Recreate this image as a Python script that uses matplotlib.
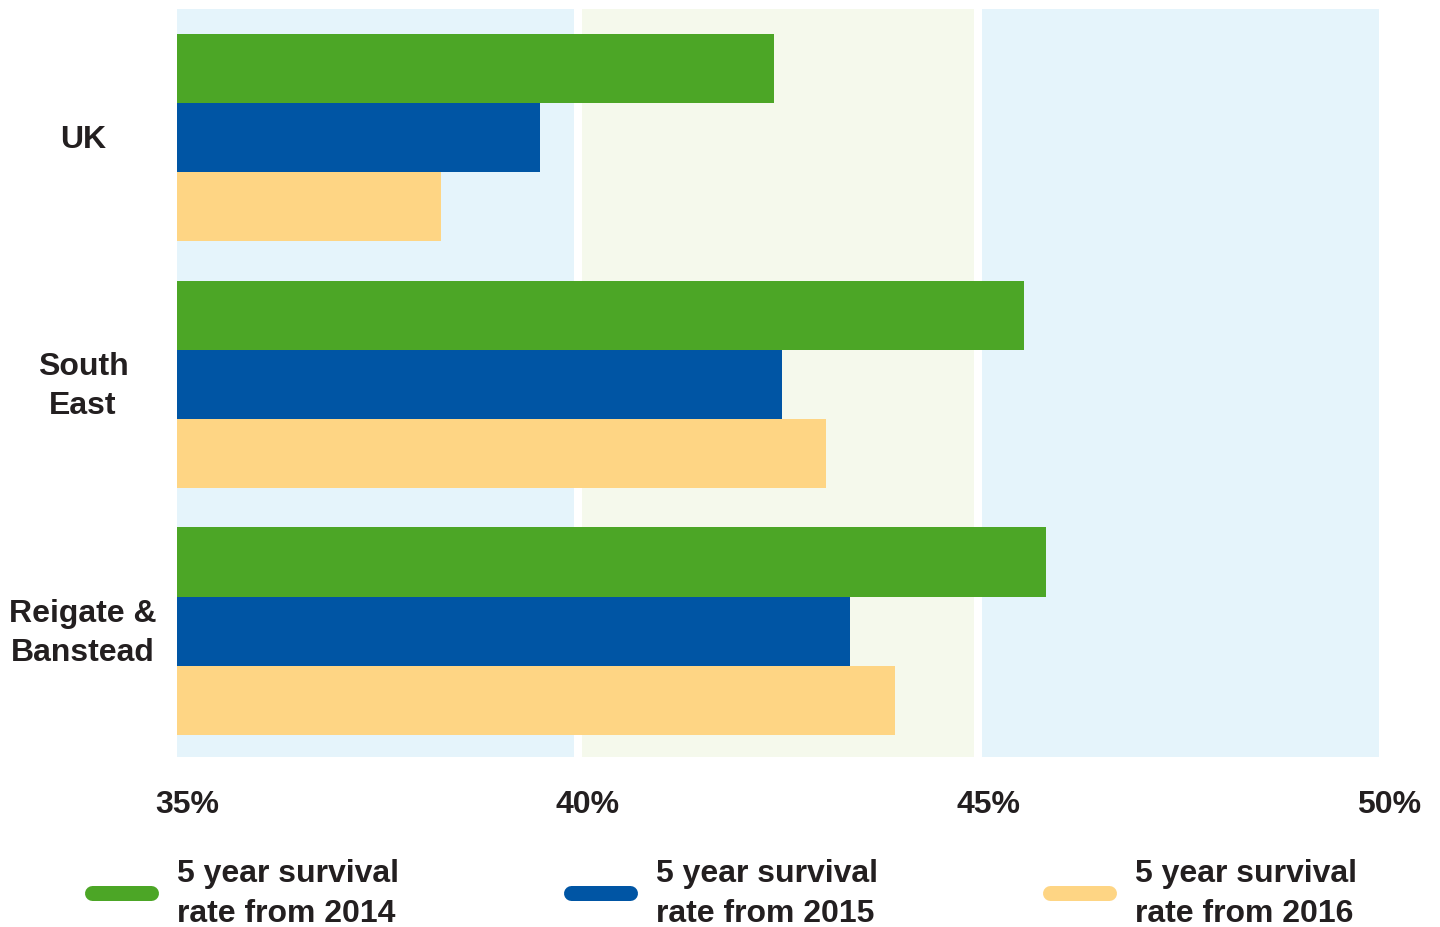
import matplotlib
matplotlib.use("Agg")
import matplotlib.pyplot as plt
from matplotlib.lines import Line2D
import matplotlib.transforms as mtransforms

plt.rcParams['font.family'] = ['Liberation Sans', 'DejaVu Sans']

categories = ["UK", "South\nEast", "Reigate &\nBanstead"]
series_labels = ["5 year survival\nrate from 2014", "5 year survival\nrate from 2015", "5 year survival\nrate from 2016"]
rate_2014 = [42.45, 45.57, 45.85]
rate_2015 = [39.53, 42.55, 43.40]
rate_2016 = [38.30, 43.10, 43.96]
xticks = [35, 40, 45, 50]
xtick_labels = ["35%", "40%", "45%", "50%"]

colors = ["#4ca626", "#0055a4", "#fed584"]
txt = "#231f20"

W, H = 1440, 927
fig = plt.figure(figsize=(W / 100, H / 100), dpi=100)
ax = fig.add_axes([177 / W, 1 - 757 / H, (1379 - 177) / W, (757 - 9) / H])

# background bands
ax.axvspan(35, 39.95, color="#e5f4fb", zorder=0, lw=0)
ax.axvspan(40.05, 44.95, color="#f5f9ec", zorder=0, lw=0)
ax.axvspan(45.05, 50, color="#e5f4fb", zorder=0, lw=0)

h = 0.28
offsets = [-h, 0, h]
for vals, off, c in zip([rate_2014, rate_2015, rate_2016], offsets, colors):
    ys = [i + off for i in range(len(categories))]
    ax.barh(ys, [v - 35 for v in vals], left=35, height=h, color=c, zorder=2, lw=0)

ax.set_xlim(35, 50)
ax.set_ylim(2.51, -0.52)
for s in ax.spines.values():
    s.set_visible(False)
ax.set_xticks(xticks)
ax.set_xticklabels(xtick_labels, fontsize=23, fontweight="bold", color=txt)
ax.tick_params(axis="x", length=0, pad=24)
ax.set_yticks([])

# shift tick labels right slightly
offset = mtransforms.ScaledTranslation(10 / 100, 0, fig.dpi_scale_trans)
for lab in ax.get_xticklabels():
    lab.set_transform(lab.get_transform() + offset)

# category labels in figure x, data y
trans = mtransforms.blended_transform_factory(fig.transFigure, ax.transData)
for i, cat in enumerate(categories):
    ax.text(83 / W, i + 0.01, cat, transform=trans, ha="center", va="center",
            fontsize=23, fontweight="bold", color=txt, linespacing=1.4)

# legend
hx = [85, 564, 1043]
for x0, c, lab in zip(hx, colors, series_labels):
    yl = 1 - 893 / H
    fig.add_artist(Line2D([(x0 + 7) / W, (x0 + 66) / W], [yl, yl], transform=fig.transFigure,
                          color=c, lw=10.8, solid_capstyle="round"))
    fig.text((x0 + 92) / W, 1 - 894 / H, lab, ha="left", va="center", fontsize=23,
             fontweight="bold", color=txt, linespacing=1.42)

fig.savefig("out.png", dpi=100)
